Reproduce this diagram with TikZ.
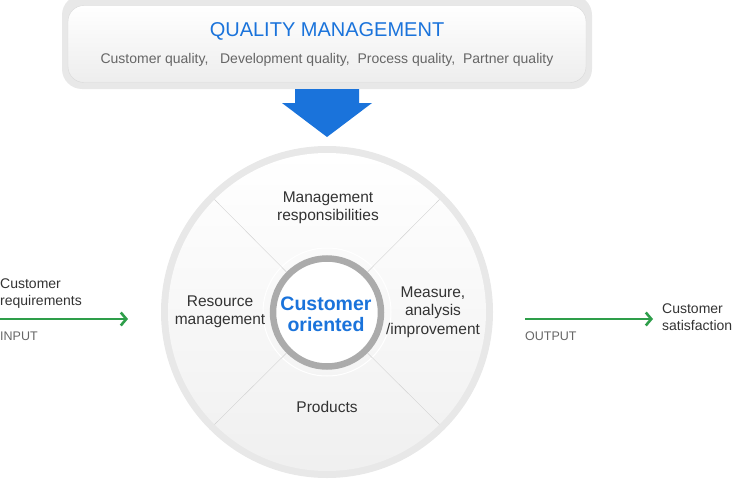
\documentclass[tikz,border=0pt]{standalone}
\usepackage{xcolor}
\usepackage{fontspec}
\setmainfont{Liberation Sans}
\usepackage{tikz}
\usetikzlibrary{arrows.meta, shapes.geometric, positioning, calc}

\definecolor{qblue}{HTML}{1A73DB}
\definecolor{qgreen}{HTML}{2E9E4A}
\definecolor{qtext}{HTML}{333333}
\definecolor{qgray}{HTML}{666666}

\begin{document}
\begin{tikzpicture}[
    x=1pt, y=-1pt,
    label/.style={align=center, text=qtext, inner sep=0pt, font=\fontsize{15.5}{18.5}\selectfont},
    sidetext/.style={align=left, anchor=west, text=qtext, inner sep=0pt, font=\fontsize{14}{17}\selectfont},
    tag/.style={anchor=west, inner sep=0pt, text=qgray, font=\fontsize{12.5}{14}\selectfont},
    flow/.style={-{Straight Barb[length=5.5pt, width=13pt]}, qgreen, line width=2.6pt},
    spoke/.style={draw=black!18, line width=0.4pt}
]
\useasboundingbox (0,0) rectangle (733,479);

% Quality management box
\fill[black!9, rounded corners=20pt] (62,-5) rectangle (592,89);
\node[draw=black!15, rounded corners=16pt, top color=white, bottom color=black!7,
      minimum width=518pt, minimum height=77pt, inner sep=0pt] (qm) at (327,44) {};
\node[text=qblue, font=\fontsize{20}{24}\selectfont] (title) at (327,31) {QUALITY MANAGEMENT};
\node[text=qgray, font=\fontsize{14}{17}\selectfont] (sub) at (327,60)
    {Customer quality,\ \ \ Development quality,\ \ Process quality,\ \ Partner quality};

% Block arrow
\fill[qblue] (295,89) -- (359,89) -- (359,103) -- (372,103) -- (327,137)
    -- (282,103) -- (295,103) -- cycle;

% Wheel
\node[circle, fill=black!9, minimum size=332pt, inner sep=0pt] (wheel) at (327,312) {};
\node[circle, top color=white, bottom color=black!6, minimum size=318pt, inner sep=0pt] (disc) at (327,312) {};
\draw[white, line width=1pt] (327,312) circle (64);
\node[circle, draw=black!33, line width=6.5pt, fill=white, minimum size=108pt, inner sep=0pt] (hub) at (327,312.5) {};

% Spokes
\foreach \a in {45,135,225,315} {
    \draw[spoke] (hub.\a) -- (disc.\a);
}

% Labels
\node[text=qblue, align=center, inner sep=0pt, font=\bfseries\fontsize{19.5}{21}\selectfont] (core) at (326,314) {Customer\\oriented};
\node[label] (mgmt) at (328,208) {Management\\responsibilities};
\node[label] (resource) at (220,312) {Resource\\management};
\node[label] (measure) at (433,312) {Measure,\\analysis\\/improvement};
\node[label] (products) at (327,407) {Products};

% Input / output
\node[sidetext] (req) at (0,294) {Customer\\requirements};
\node[tag] (input) at (0,336) {INPUT};
\coordinate (inStart) at (0,319);
\coordinate (inEnd) at (128,319);
\draw[flow] (inStart) -- (inEnd);

\node[tag] (output) at (525,336) {OUTPUT};
\node[sidetext] (sat) at (662,317) {Customer\\satisfaction};
\coordinate (outStart) at (525,319);
\coordinate (outEnd) at (653,319);
\draw[flow] (outStart) -- (outEnd);

\end{tikzpicture}
\end{document}
